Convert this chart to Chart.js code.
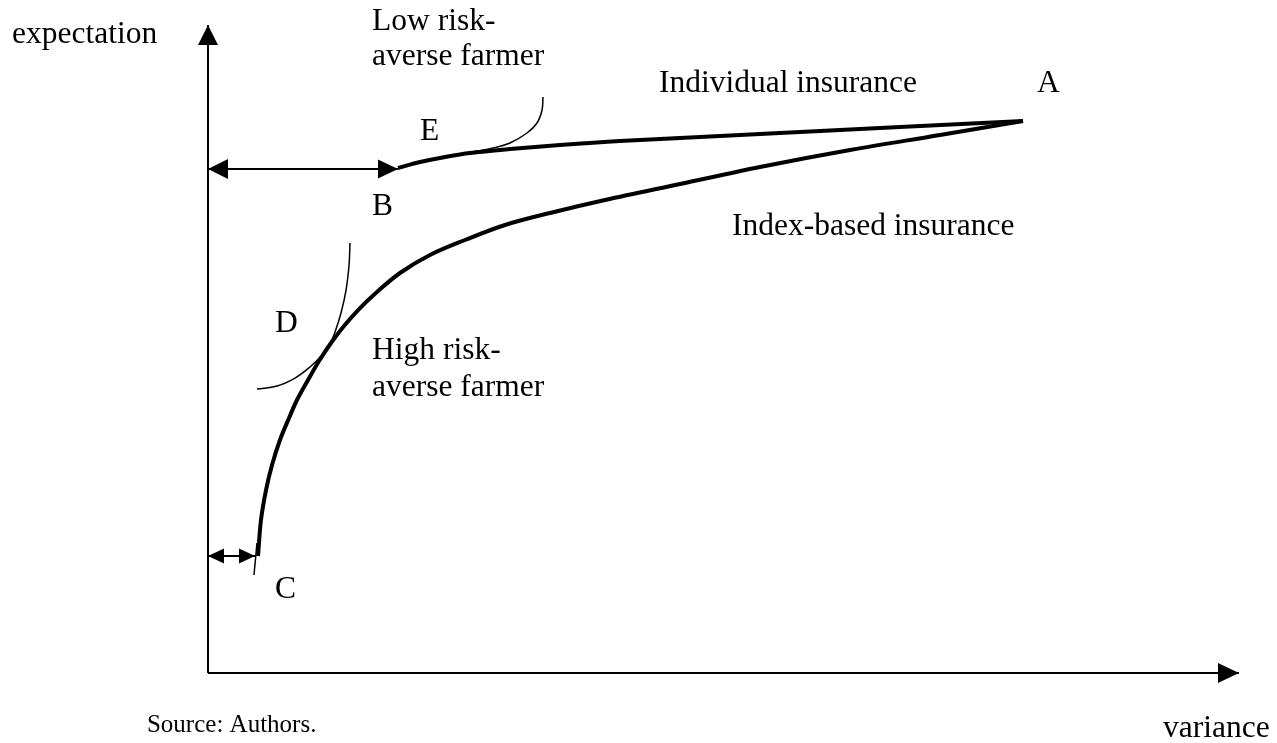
<!DOCTYPE html>
<html><head><meta charset="utf-8">
<script src="https://cdn.jsdelivr.net/npm/chart.js@4"></script>
<style>html,body{margin:0;padding:0;background:#fff;overflow:hidden}</style>
</head><body>
<canvas id="c" width="1277" height="743"></canvas>
<script>
// ---- data (schematic units: variance 0..100, expectation 0..100) ----
const varianceAxis = [[0, 0], [100, 0]];
const expectationAxis = [[0, 0], [0, 100]];
const individualInsurance = [[18.43,77.93],[20.56,78.86],[22.99,79.63],[25.41,80.25],[29.29,80.86],[34.14,81.48],[39.96,82.10],[47.72,82.72],[57.42,83.49],[67.12,84.26],[79.05,85.19]];
const indexBasedInsurance = [[4.85,18.06],[5.14,23.61],[5.63,28.24],[6.21,32.10],[6.98,35.96],[7.86,39.35],[8.63,42.13],[9.70,45.22],[10.77,48.15],[11.93,50.93],[13.19,53.55],[14.65,56.17],[16.39,58.80],[18.62,61.73],[21.53,64.51],[24.93,66.82],[28.81,69.14],[33.17,70.99],[38.51,72.99],[45.78,75.46],[53.54,78.09],[62.27,80.71],[71.00,83.02],[79.05,85.19]];
const lowRiskAverseCurve = [[24.64,79.94],[25.41,80.32],[27.64,81.02],[29.29,81.79],[30.94,83.33],[31.91,84.88],[32.40,86.88],[32.49,88.89]];
const highRiskAverseCurve = [[13.77,66.36],[13.68,62.96],[13.39,59.10],[12.90,55.56],[12.32,52.62],[11.83,50.77],[11.06,49.07],[9.89,47.22],[8.44,45.52],[6.69,44.29],[4.75,43.83]];
const gapB = [[0, 77.78], [18.43, 77.78]];
const gapC = [[0, 18.06], [4.56, 18.06]];
const tickC = [[4.75, 20.06], [4.46, 15.12]];
const labelTexts = ["expectation","Low risk-","averse farmer","E","B","D","High risk-","averse farmer","C","Individual insurance","A","Index-based insurance","Source: Authors.","variance"];

const pts = a => a.map(p => ({x: p[0], y: p[1]}));

// text anchors (data units) for labelTexts, in the same order
const labelAnchors = [[-19.01,97.22],[15.91,99.23],[15.91,93.83],[20.56,82.25],[15.91,70.68],[6.50,52.62],[15.91,48.46],[15.91,42.75],[6.50,11.57],[43.74,89.66],[80.41,89.66],[50.82,67.59],[-5.92,-9.10],[92.63,-9.88]];
const labelSizes = [31.5,31.5,31.5,31.5,31.5,31.5,31.5,31.5,31.5,31.5,31.5,31.5,25,31.5];

const arrowPlugin = {
  id: 'arrows',
  afterDatasetsDraw(chart) {
    const ctx = chart.ctx;
    chart.data.datasets.forEach((ds, i) => {
      const d = chart.getDatasetMeta(i).data;
      const head = (tip, from, a) => {
        const ang = Math.atan2(tip.y - from.y, tip.x - from.x);
        ctx.save();
        ctx.translate(tip.x, tip.y);
        ctx.rotate(ang);
        ctx.beginPath();
        ctx.moveTo(0, 0);
        ctx.lineTo(-a.length, -a.width / 2);
        ctx.lineTo(-a.length, a.width / 2);
        ctx.closePath();
        ctx.fillStyle = '#000';
        ctx.fill();
        ctx.restore();
      };
      if (ds.arrowEnd) head(d[d.length - 1], d[d.length - 2], ds.arrowEnd);
      if (ds.arrowStart) head(d[0], d[1], ds.arrowStart);
    });
  }
};

const labelPlugin = {
  id: 'labels',
  afterDraw(chart) {
    const ctx = chart.ctx, sx = chart.scales.x, sy = chart.scales.y;
    ctx.save();
    ctx.fillStyle = '#000';
    ctx.textAlign = 'left';
    ctx.textBaseline = 'alphabetic';
    labelTexts.forEach((t, i) => {
      ctx.font = labelSizes[i] + 'px "Liberation Serif", "Times New Roman", serif';
      ctx.fillText(t, sx.getPixelForValue(labelAnchors[i][0]), sy.getPixelForValue(labelAnchors[i][1]));
    });
    ctx.restore();
  }
};

const line = (data, w, extra) => Object.assign({
  data: pts(data), showLine: true, borderColor: '#000', backgroundColor: '#000',
  borderWidth: w, pointRadius: 0, pointHoverRadius: 0, tension: 0, clip: false,
  borderCapStyle: 'butt', borderJoinStyle: 'round'
}, extra || {});

new Chart(document.getElementById('c'), {
  type: 'scatter',
  data: {
    datasets: [
      line(varianceAxis, 2, {arrowEnd: {length: 21, width: 20}}),
      line(expectationAxis, 2, {arrowEnd: {length: 20, width: 20}}),
      line(gapB, 2, {arrowStart: {length: 20, width: 20}, arrowEnd: {length: 20, width: 19}}),
      line(gapC, 2, {arrowStart: {length: 16, width: 15}, arrowEnd: {length: 16, width: 15}}),
      line(tickC, 1.5),
      line(individualInsurance, 4, {tension: 0.35}),
      line(indexBasedInsurance, 4, {tension: 0.35}),
      line(lowRiskAverseCurve, 1.5, {tension: 0.4}),
      line(highRiskAverseCurve, 1.5, {tension: 0.4})
    ]
  },
  options: {
    responsive: false,
    animation: false,
    events: [],
    layout: {padding: {left: 208, right: 38, top: 25, bottom: 70}},
    plugins: {legend: {display: false}, tooltip: {enabled: false}},
    scales: {
      x: {type: 'linear', min: 0, max: 100, display: false},
      y: {type: 'linear', min: 0, max: 100, display: false}
    }
  },
  plugins: [arrowPlugin, labelPlugin]
});
</script>
</body></html>
